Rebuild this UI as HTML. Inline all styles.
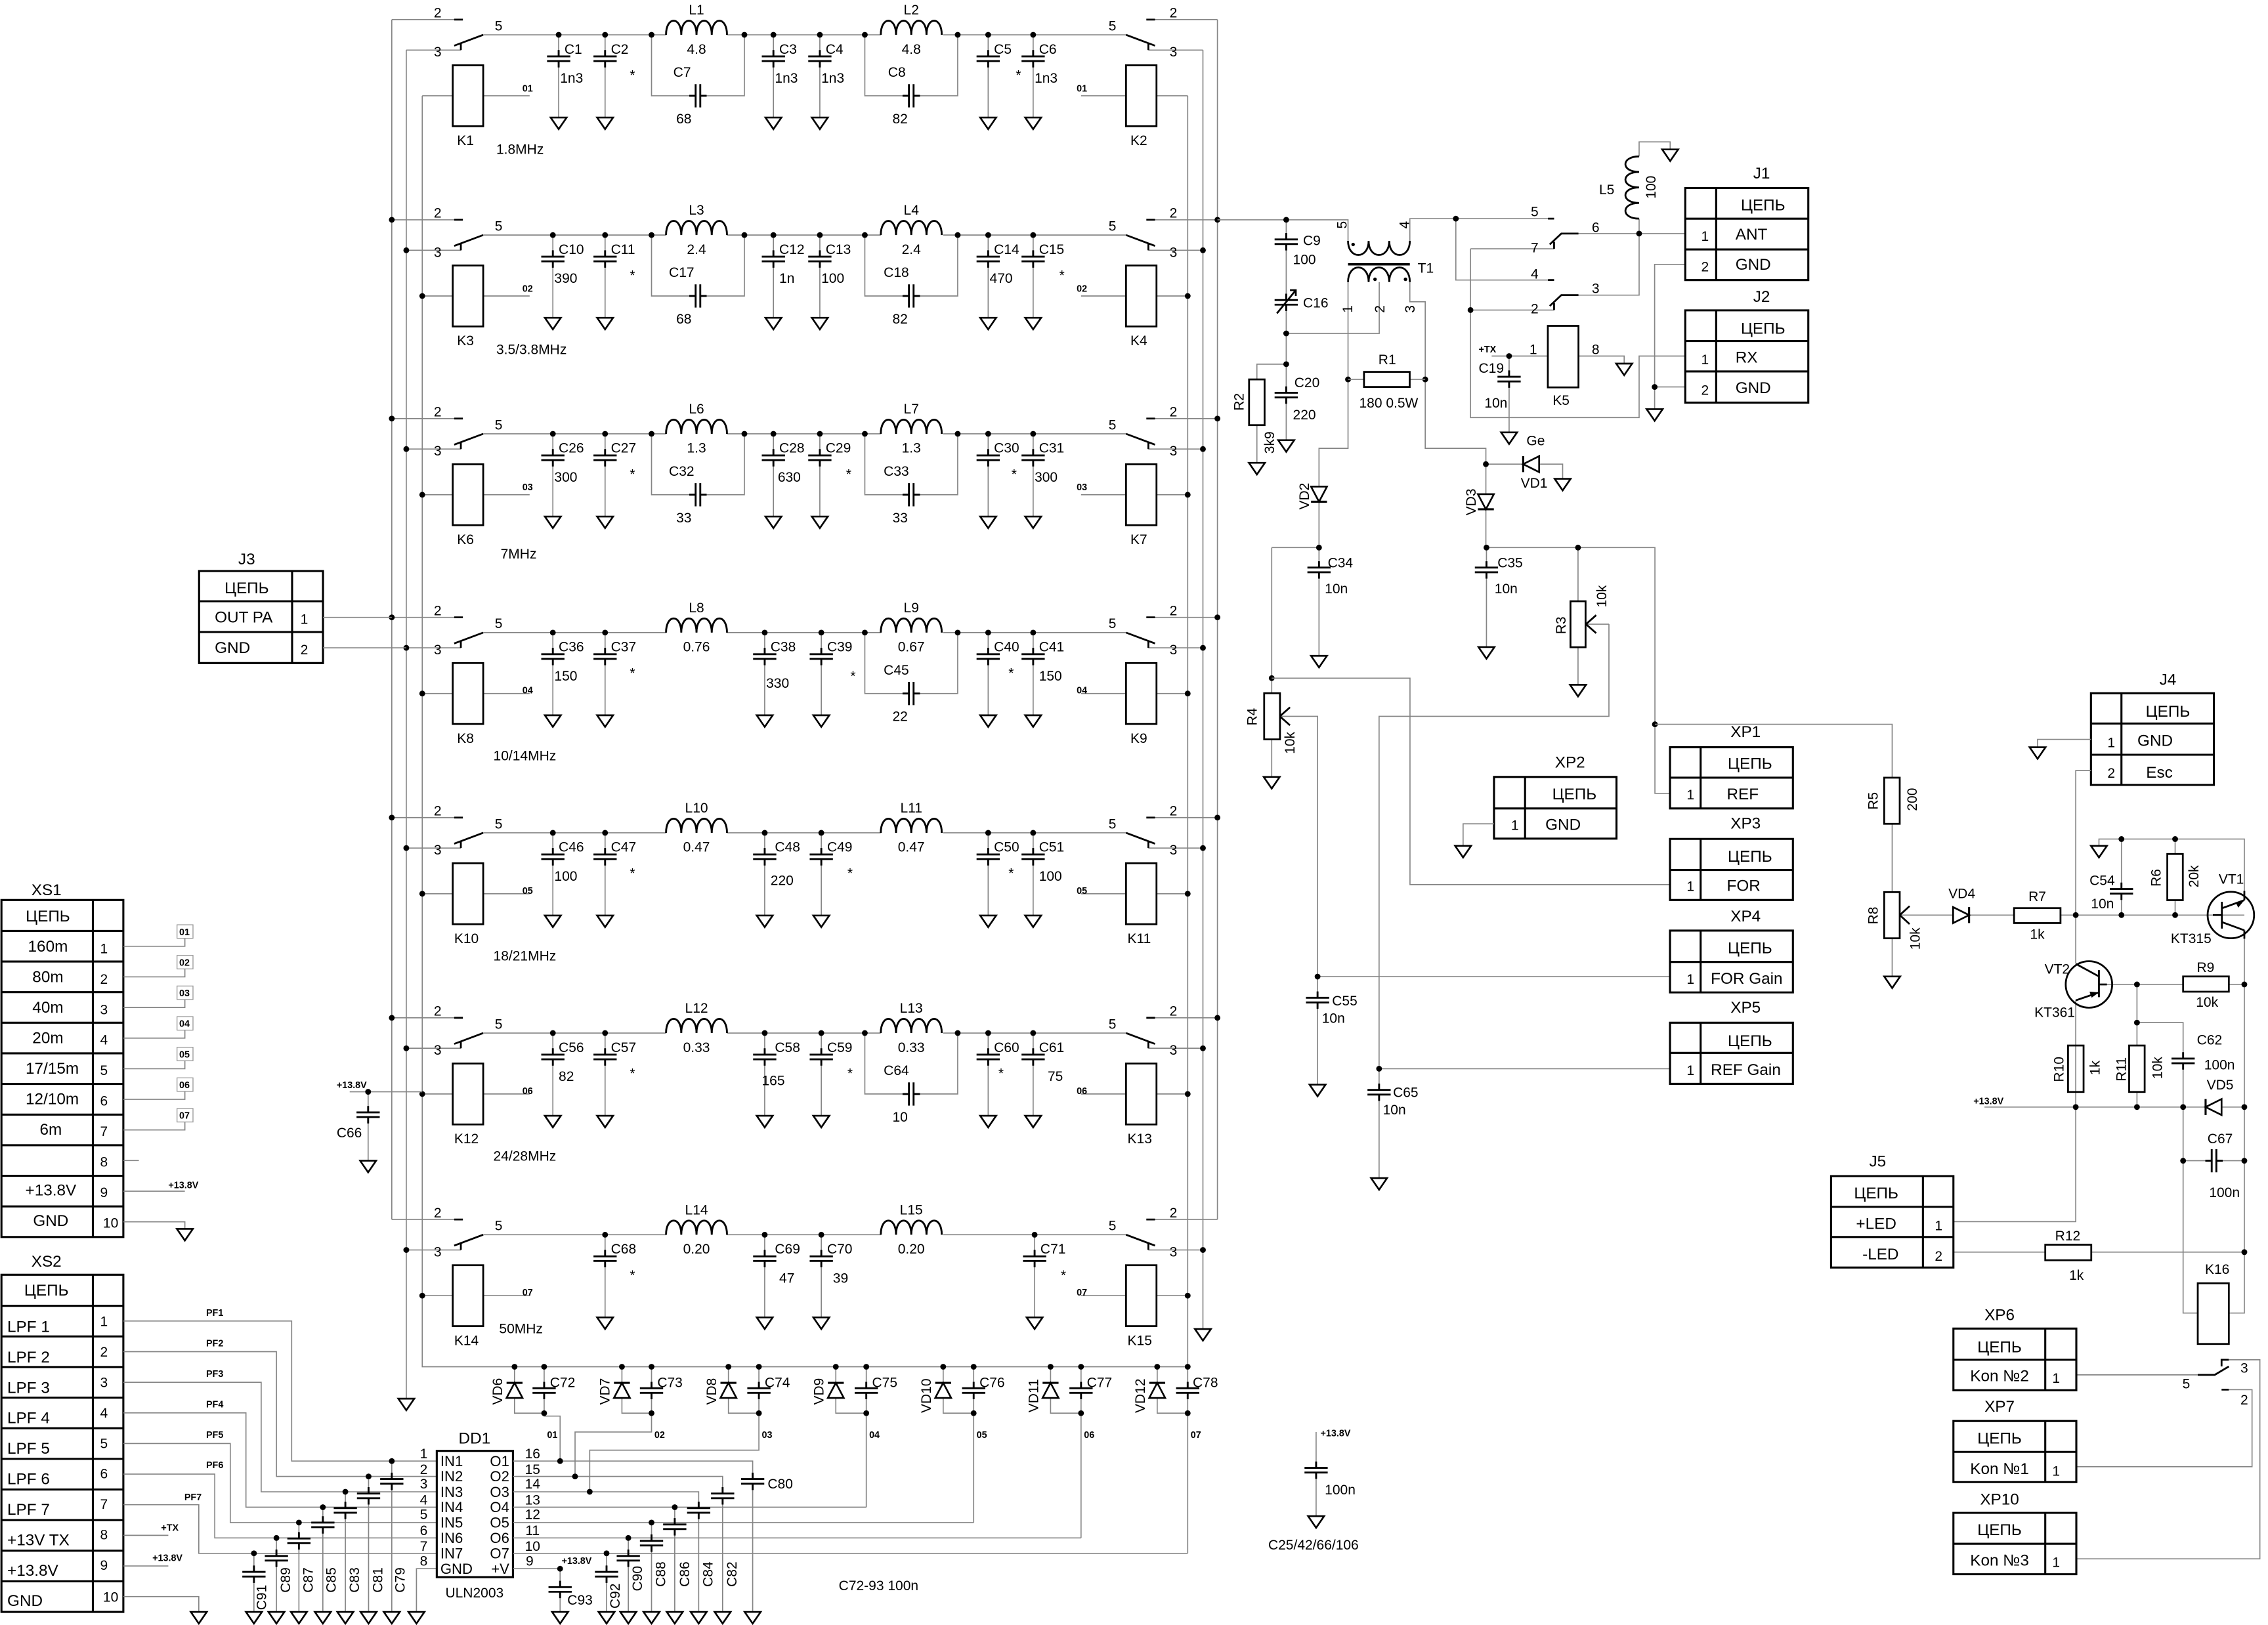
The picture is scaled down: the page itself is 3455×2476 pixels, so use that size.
<!DOCTYPE html>
<html><head><meta charset="utf-8"><style>
html,body{margin:0;padding:0;background:#fff}
svg{display:block}
.w{stroke:#858585;stroke-width:.75;fill:none}
.s{stroke:#000;stroke-width:1.25;fill:none}
.b{stroke:#000;stroke-width:1.4;fill:none}
text{font-family:"Liberation Sans",sans-serif;font-size:10px;fill:#000}
.f{font-size:9.5px}
.t{font-size:11px}
.n{font-size:6.5px;font-weight:bold}
.m{text-anchor:middle}
</style></head><body>
<svg width="3455" height="2476" viewBox="0 0 1563 1120" preserveAspectRatio="none" xmlns="http://www.w3.org/2000/svg">
<defs>
<path id="g" d="M-5.5,0 H5.5 L0,8 Z" fill="#fff" stroke="#000" stroke-width="1.2"/>
<g id="cv"><rect x="-8" y="-1.6" width="16" height="3.2" fill="#fff"/><path d="M-8,-1.6 H8 M-8,1.6 H8 M0,-6 V-1.6 M0,1.6 V6" stroke="#000" stroke-width="1.3" fill="none"/></g>
<g id="ch"><rect x="-1.6" y="-8" width="3.2" height="16" fill="#fff"/><path d="M-1.6,-8 V8 M1.6,-8 V8 M-6,0 H-1.6 M1.6,0 H6" stroke="#000" stroke-width="1.3" fill="none"/></g>
<circle id="d" r="2" fill="#000"/>
<g id="dup"><path d="M-5.5,5.2 H5.5 L0,-5.2 Z" fill="#fff" stroke="#000" stroke-width="1.2"/><path d="M-5.5,-5.2 H5.5" stroke="#000" stroke-width="1.4"/></g>
<g id="ddn"><path d="M-5.5,-5.2 H5.5 L0,5.2 Z" fill="#fff" stroke="#000" stroke-width="1.2"/><path d="M-5.5,5.2 H5.5" stroke="#000" stroke-width="1.4"/></g>
<g id="dl"><path d="M5.5,-5.5 V5.5 L-5.5,0 Z" fill="#fff" stroke="#000" stroke-width="1.2"/><path d="M-5.5,-5.5 V5.5" stroke="#000" stroke-width="1.4"/></g>
<g id="dr"><path d="M-5.5,-5.5 V5.5 L5.5,0 Z" fill="#fff" stroke="#000" stroke-width="1.2"/><path d="M5.5,-5.5 V5.5" stroke="#000" stroke-width="1.4"/></g>
<path id="ind" d="M0,0 C0,-13 10.5,-13 10.5,0 C10.5,-13 21,-13 21,0 C21,-13 31.5,-13 31.5,0 C31.5,-13 42,-13 42,0" stroke="#000" stroke-width="1.3" fill="none"/>
<g id="rowc">
<path class="w" d="M270,-10.5 H317 M280,10.5 H317.6 M291,42 H312 M333,42 H365 M745,42 H776 M797,42 H818.5 M791.4,10.5 H829 M792,-10.5 H839"/>
<path class="s" d="M313,-10.5 H319 M317.6,10.5 V6 M313,7.5 L333,0 M790,-10.5 H796 M791.4,10.5 V6 M796,7.5 L776,0"/>
<rect class="s" x="312" y="21" width="21" height="42"/>
<rect class="s" x="776" y="21" width="21" height="42"/>
<text class="f" x="299" y="-12">2</text><text class="f" x="299" y="15">3</text><text class="f" x="341" y="-3">5</text>
<text class="f" x="764" y="-3">5</text><text class="f" x="806" y="-12">2</text><text class="f" x="806" y="15">3</text>
</g>
</defs>

<!-- buses -->
<path class="w" d="M270,13.5 V840.5 M280,34.5 V964 M291,66 V942 H818.5 M839,13.5 V840.5 M829,34.5 V916 M818.5,66 V942"/>
<use href="#g" x="280" y="964"/><use href="#g" x="829" y="916"/>

<!-- ROWS -->
<g transform="translate(0,24)">
<use href="#rowc"/>
<path class="w" d="M333,0 H459 M501,0 H607 M650,0 H776 M449,0 V42 H513 V0 M596,0 V42 H660 V0 M385,0 V57 M417,0 V57 M533,0 V57 M565,0 V57 M681,0 V57 M712,0 V57"/>
<use href="#ind" x="459"/><use href="#ind" x="607"/>
<use href="#ch" x="481" y="42"/><use href="#ch" x="628" y="42"/>
<use href="#cv" x="385" y="16.5"/><use href="#cv" x="417" y="16.5"/><use href="#cv" x="533" y="16.5"/><use href="#cv" x="565" y="16.5"/><use href="#cv" x="681" y="16.5"/><use href="#cv" x="712" y="16.5"/>
<use href="#g" x="385" y="57"/><use href="#g" x="417" y="57"/><use href="#g" x="533" y="57"/><use href="#g" x="565" y="57"/><use href="#g" x="681" y="57"/><use href="#g" x="712" y="57"/>
<use href="#d" x="385"/><use href="#d" x="417"/><use href="#d" x="449"/><use href="#d" x="513"/><use href="#d" x="533"/><use href="#d" x="565"/><use href="#d" x="596"/><use href="#d" x="660"/><use href="#d" x="681"/><use href="#d" x="712"/>
<text class="f m" x="480" y="-14">L1</text><text class="f m" x="480" y="13">4.8</text><text class="f m" x="628" y="-14">L2</text><text class="f m" x="628" y="13">4.8</text>
<text class="f" x="464" y="29">C7</text><text class="f" x="466" y="61">68</text><text class="f" x="612" y="29">C8</text><text class="f" x="615" y="61">82</text>
<text class="f" x="389" y="13">C1</text><text class="f" x="386" y="33">1n3</text><text class="f" x="421" y="13">C2</text><text class="f" x="434" y="31">*</text>
<text class="f" x="537" y="13">C3</text><text class="f" x="534" y="33">1n3</text><text class="f" x="569" y="13">C4</text><text class="f" x="566" y="33">1n3</text>
<text class="f" x="685" y="13">C5</text><text class="f" x="700" y="31">*</text><text class="f" x="716" y="13">C6</text><text class="f" x="713" y="33">1n3</text>
<text class="n" x="360" y="39">01</text><text class="n" x="742" y="39">01</text>
<text class="f" x="315" y="76">K1</text><text class="f" x="342" y="82">1.8MHz</text><text class="f" x="779" y="76">K2</text>
</g>

<g transform="translate(0,162)">
<use href="#rowc"/>
<path class="w" d="M333,0 H459 M501,0 H607 M650,0 H776 M449,0 V42 H513 V0 M596,0 V42 H660 V0 M381,0 V57 M417,0 V57 M533,0 V57 M565,0 V57 M681,0 V57 M712,0 V57"/>
<use href="#ind" x="459"/><use href="#ind" x="607"/>
<use href="#ch" x="481" y="42"/><use href="#ch" x="628" y="42"/>
<use href="#cv" x="381" y="16.5"/><use href="#cv" x="417" y="16.5"/><use href="#cv" x="533" y="16.5"/><use href="#cv" x="565" y="16.5"/><use href="#cv" x="681" y="16.5"/><use href="#cv" x="712" y="16.5"/>
<use href="#g" x="381" y="57"/><use href="#g" x="417" y="57"/><use href="#g" x="533" y="57"/><use href="#g" x="565" y="57"/><use href="#g" x="681" y="57"/><use href="#g" x="712" y="57"/>
<use href="#d" x="381"/><use href="#d" x="417"/><use href="#d" x="449"/><use href="#d" x="513"/><use href="#d" x="533"/><use href="#d" x="565"/><use href="#d" x="596"/><use href="#d" x="660"/><use href="#d" x="681"/><use href="#d" x="712"/>
<text class="f m" x="480" y="-14">L3</text><text class="f m" x="480" y="13">2.4</text><text class="f m" x="628" y="-14">L4</text><text class="f m" x="628" y="13">2.4</text>
<text class="f" x="461" y="29">C17</text><text class="f" x="466" y="61">68</text><text class="f" x="609" y="29">C18</text><text class="f" x="615" y="61">82</text>
<text class="f" x="385" y="13">C10</text><text class="f" x="382" y="33">390</text><text class="f" x="421" y="13">C11</text><text class="f" x="434" y="31">*</text>
<text class="f" x="537" y="13">C12</text><text class="f" x="537" y="33">1n</text><text class="f" x="569" y="13">C13</text><text class="f" x="566" y="33">100</text>
<text class="f" x="685" y="13">C14</text><text class="f" x="682" y="33">470</text><text class="f" x="716" y="13">C15</text><text class="f" x="730" y="31">*</text>
<text class="n" x="360" y="39">02</text><text class="n" x="742" y="39">02</text>
<text class="f" x="315" y="76">K3</text><text class="f" x="342" y="82">3.5/3.8MHz</text><text class="f" x="779" y="76">K4</text>
</g>

<g transform="translate(0,299)">
<use href="#rowc"/>
<path class="w" d="M333,0 H459 M501,0 H607 M650,0 H776 M449,0 V42 H513 V0 M596,0 V42 H660 V0 M381,0 V57 M417,0 V57 M533,0 V57 M565,0 V57 M681,0 V57 M712,0 V57"/>
<use href="#ind" x="459"/><use href="#ind" x="607"/>
<use href="#ch" x="481" y="42"/><use href="#ch" x="628" y="42"/>
<use href="#cv" x="381" y="16.5"/><use href="#cv" x="417" y="16.5"/><use href="#cv" x="533" y="16.5"/><use href="#cv" x="565" y="16.5"/><use href="#cv" x="681" y="16.5"/><use href="#cv" x="712" y="16.5"/>
<use href="#g" x="381" y="57"/><use href="#g" x="417" y="57"/><use href="#g" x="533" y="57"/><use href="#g" x="565" y="57"/><use href="#g" x="681" y="57"/><use href="#g" x="712" y="57"/>
<use href="#d" x="381"/><use href="#d" x="417"/><use href="#d" x="449"/><use href="#d" x="513"/><use href="#d" x="533"/><use href="#d" x="565"/><use href="#d" x="596"/><use href="#d" x="660"/><use href="#d" x="681"/><use href="#d" x="712"/>
<text class="f m" x="480" y="-14">L6</text><text class="f m" x="480" y="13">1.3</text><text class="f m" x="628" y="-14">L7</text><text class="f m" x="628" y="13">1.3</text>
<text class="f" x="461" y="29">C32</text><text class="f" x="466" y="61">33</text><text class="f" x="609" y="29">C33</text><text class="f" x="615" y="61">33</text>
<text class="f" x="385" y="13">C26</text><text class="f" x="382" y="33">300</text><text class="f" x="421" y="13">C27</text><text class="f" x="434" y="31">*</text>
<text class="f" x="537" y="13">C28</text><text class="f" x="536" y="33">630</text><text class="f" x="569" y="13">C29</text><text class="f" x="583" y="31">*</text>
<text class="f" x="685" y="13">C30</text><text class="f" x="697" y="31">*</text><text class="f" x="716" y="13">C31</text><text class="f" x="713" y="33">300</text>
<text class="n" x="360" y="39">03</text><text class="n" x="742" y="39">03</text>
<text class="f" x="315" y="76">K6</text><text class="f" x="345" y="86">7MHz</text><text class="f" x="779" y="76">K7</text>
</g>

<g transform="translate(0,436)">
<use href="#rowc"/>
<path class="w" d="M333,0 H459 M501,0 H607 M650,0 H776 M596,0 V42 H660 V0 M381,0 V57 M417,0 V57 M527,0 V57 M566,0 V57 M681,0 V57 M712,0 V57"/>
<use href="#ind" x="459"/><use href="#ind" x="607"/>
<use href="#ch" x="628" y="42"/>
<use href="#cv" x="381" y="16.5"/><use href="#cv" x="417" y="16.5"/><use href="#cv" x="527" y="16.5"/><use href="#cv" x="566" y="16.5"/><use href="#cv" x="681" y="16.5"/><use href="#cv" x="712" y="16.5"/>
<use href="#g" x="381" y="57"/><use href="#g" x="417" y="57"/><use href="#g" x="527" y="57"/><use href="#g" x="566" y="57"/><use href="#g" x="681" y="57"/><use href="#g" x="712" y="57"/>
<use href="#d" x="381"/><use href="#d" x="417"/><use href="#d" x="527"/><use href="#d" x="566"/><use href="#d" x="596"/><use href="#d" x="660"/><use href="#d" x="681"/><use href="#d" x="712"/>
<text class="f m" x="480" y="-14">L8</text><text class="f m" x="480" y="13">0.76</text><text class="f m" x="628" y="-14">L9</text><text class="f m" x="628" y="13">0.67</text>
<text class="f" x="609" y="29">C45</text><text class="f" x="615" y="61">22</text>
<text class="f" x="385" y="13">C36</text><text class="f" x="382" y="33">150</text><text class="f" x="421" y="13">C37</text><text class="f" x="434" y="31">*</text>
<text class="f" x="531" y="13">C38</text><text class="f" x="528" y="38">330</text><text class="f" x="570" y="13">C39</text><text class="f" x="586" y="33">*</text>
<text class="f" x="685" y="13">C40</text><text class="f" x="695" y="31">*</text><text class="f" x="716" y="13">C41</text><text class="f" x="716" y="33">150</text>
<text class="n" x="360" y="42">04</text><text class="n" x="742" y="42">04</text>
<text class="f" x="315" y="76">K8</text><text class="f" x="340" y="88">10/14MHz</text><text class="f" x="779" y="76">K9</text>
</g>

<g transform="translate(0,574)">
<use href="#rowc"/>
<path class="w" d="M333,0 H459 M501,0 H607 M650,0 H776 M381,0 V57 M417,0 V57 M527,0 V57 M566,0 V57 M681,0 V57 M712,0 V57"/>
<use href="#ind" x="459"/><use href="#ind" x="607"/>
<use href="#cv" x="381" y="16.5"/><use href="#cv" x="417" y="16.5"/><use href="#cv" x="527" y="16.5"/><use href="#cv" x="566" y="16.5"/><use href="#cv" x="681" y="16.5"/><use href="#cv" x="712" y="16.5"/>
<use href="#g" x="381" y="57"/><use href="#g" x="417" y="57"/><use href="#g" x="527" y="57"/><use href="#g" x="566" y="57"/><use href="#g" x="681" y="57"/><use href="#g" x="712" y="57"/>
<use href="#d" x="381"/><use href="#d" x="417"/><use href="#d" x="527"/><use href="#d" x="566"/><use href="#d" x="681"/><use href="#d" x="712"/>
<text class="f m" x="480" y="-14">L10</text><text class="f m" x="480" y="13">0.47</text><text class="f m" x="628" y="-14">L11</text><text class="f m" x="628" y="13">0.47</text>
<text class="f" x="385" y="13">C46</text><text class="f" x="382" y="33">100</text><text class="f" x="421" y="13">C47</text><text class="f" x="434" y="31">*</text>
<text class="f" x="534" y="13">C48</text><text class="f" x="531" y="36">220</text><text class="f" x="570" y="13">C49</text><text class="f" x="584" y="31">*</text>
<text class="f" x="685" y="13">C50</text><text class="f" x="695" y="31">*</text><text class="f" x="716" y="13">C51</text><text class="f" x="716" y="33">100</text>
<text class="n" x="360" y="42">05</text><text class="n" x="742" y="42">05</text>
<text class="f" x="313" y="76">K10</text><text class="f" x="340" y="88">18/21MHz</text><text class="f" x="777" y="76">K11</text>
</g>

<g transform="translate(0,712)">
<use href="#rowc"/>
<path class="w" d="M333,0 H459 M501,0 H607 M650,0 H776 M596,0 V42 H660 V0 M381,0 V57 M417,0 V57 M527,0 V57 M566,0 V57 M681,0 V57 M712,0 V57"/>
<use href="#ind" x="459"/><use href="#ind" x="607"/>
<use href="#ch" x="628" y="42"/>
<use href="#cv" x="381" y="16.5"/><use href="#cv" x="417" y="16.5"/><use href="#cv" x="527" y="16.5"/><use href="#cv" x="566" y="16.5"/><use href="#cv" x="681" y="16.5"/><use href="#cv" x="712" y="16.5"/>
<use href="#g" x="381" y="57"/><use href="#g" x="417" y="57"/><use href="#g" x="527" y="57"/><use href="#g" x="566" y="57"/><use href="#g" x="681" y="57"/><use href="#g" x="712" y="57"/>
<use href="#d" x="381"/><use href="#d" x="417"/><use href="#d" x="527"/><use href="#d" x="566"/><use href="#d" x="596"/><use href="#d" x="660"/><use href="#d" x="681"/><use href="#d" x="712"/>
<text class="f m" x="480" y="-14">L12</text><text class="f m" x="480" y="13">0.33</text><text class="f m" x="628" y="-14">L13</text><text class="f m" x="628" y="13">0.33</text>
<text class="f" x="609" y="29">C64</text><text class="f" x="615" y="61">10</text>
<text class="f" x="385" y="13">C56</text><text class="f" x="385" y="33">82</text><text class="f" x="421" y="13">C57</text><text class="f" x="434" y="31">*</text>
<text class="f" x="534" y="13">C58</text><text class="f" x="525" y="36">165</text><text class="f" x="570" y="13">C59</text><text class="f" x="584" y="31">*</text>
<text class="f" x="685" y="13">C60</text><text class="f" x="688" y="31">*</text><text class="f" x="716" y="13">C61</text><text class="f" x="722" y="33">75</text>
<text class="n" x="360" y="42">06</text><text class="n" x="742" y="42">06</text>
<text class="f" x="313" y="76">K12</text><text class="f" x="340" y="88">24/28MHz</text><text class="f" x="777" y="76">K13</text>
</g>

<g transform="translate(0,851)">
<use href="#rowc"/>
<path class="w" d="M333,0 H459 M501,0 H607 M650,0 H776 M417,0 V57 M527,0 V57 M566,0 V57 M713,0 V57"/>
<use href="#ind" x="459"/><use href="#ind" x="607"/>
<use href="#cv" x="417" y="16.5"/><use href="#cv" x="527" y="16.5"/><use href="#cv" x="566" y="16.5"/><use href="#cv" x="713" y="16.5"/>
<use href="#g" x="417" y="57"/><use href="#g" x="527" y="57"/><use href="#g" x="566" y="57"/><use href="#g" x="713" y="57"/>
<use href="#d" x="417"/><use href="#d" x="527"/><use href="#d" x="566"/><use href="#d" x="713"/>
<text class="f m" x="480" y="-14">L14</text><text class="f m" x="480" y="13">0.20</text><text class="f m" x="628" y="-14">L15</text><text class="f m" x="628" y="13">0.20</text>
<text class="f" x="421" y="13">C68</text><text class="f" x="434" y="31">*</text>
<text class="f" x="534" y="13">C69</text><text class="f" x="537" y="33">47</text><text class="f" x="570" y="13">C70</text><text class="f" x="574" y="33">39</text>
<text class="f" x="717" y="13">C71</text><text class="f" x="731" y="31">*</text>
<text class="n" x="360" y="42">07</text><text class="n" x="742" y="42">07</text>
<text class="f" x="313" y="76">K14</text><text class="f" x="344" y="68">50MHz</text><text class="f" x="777" y="76">K15</text>
</g>

<!-- bus junction dots -->
<g>
<use href="#d" x="270" y="151.5"/><use href="#d" x="270" y="288.5"/><use href="#d" x="270" y="425.5"/><use href="#d" x="270" y="563.5"/><use href="#d" x="270" y="701.5"/>
<use href="#d" x="280" y="172.5"/><use href="#d" x="280" y="309.5"/><use href="#d" x="280" y="446.5"/><use href="#d" x="280" y="584.5"/><use href="#d" x="280" y="722.5"/><use href="#d" x="280" y="861.5"/>
<use href="#d" x="291" y="204"/><use href="#d" x="291" y="341"/><use href="#d" x="291" y="478"/><use href="#d" x="291" y="616"/><use href="#d" x="291" y="754"/><use href="#d" x="291" y="893"/>
<use href="#d" x="839" y="151.5"/><use href="#d" x="839" y="288.5"/><use href="#d" x="839" y="425.5"/><use href="#d" x="839" y="563.5"/><use href="#d" x="839" y="701.5"/>
<use href="#d" x="829" y="172.5"/><use href="#d" x="829" y="309.5"/><use href="#d" x="829" y="446.5"/><use href="#d" x="829" y="584.5"/><use href="#d" x="829" y="722.5"/><use href="#d" x="829" y="861.5"/>
<use href="#d" x="818.5" y="204"/><use href="#d" x="818.5" y="341"/><use href="#d" x="818.5" y="478"/><use href="#d" x="818.5" y="616"/><use href="#d" x="818.5" y="754"/><use href="#d" x="818.5" y="893"/>
</g>

<!-- J3 -->
<text class="t m" x="170" y="389">J3</text>
<path class="b" d="M137.2,393.6 H222.6 V457 H137.2 Z M201.3,393.6 V457 M137.2,414.4 H222.6 M137.2,435.6 H222.6"/>
<text class="t m" x="170" y="409">ЦЕПЬ</text><text class="t" x="148" y="429">OUT PA</text><text class="t" x="148" y="450">GND</text>
<text class="f" x="207" y="430">1</text><text class="f" x="207" y="451">2</text>
<path class="w" d="M222.6,425.5 H270 M222.6,446.5 H280"/>

<!-- XS1 -->
<text class="t m" x="32" y="617">XS1</text>
<path class="b" d="M1,620.3 H85 V852.6 H1 Z M64,620.3 V852.6 M1,641.6 H85 M1,662.7 H85 M1,683.8 H85 M1,704.9 H85 M1,726 H85 M1,747.1 H85 M1,768.2 H85 M1,789.3 H85 M1,810.4 H85 M1,831.5 H85"/>
<text class="t m" x="33" y="635">ЦЕПЬ</text>
<text class="t m" x="33" y="656">160m</text><text class="t m" x="33" y="677">80m</text><text class="t m" x="33" y="698">40m</text><text class="t m" x="33" y="719">20m</text><text class="t m" x="36" y="740">17/15m</text><text class="t m" x="36" y="761">12/10m</text><text class="t m" x="35" y="782">6m</text><text class="t m" x="35" y="824">+13.8V</text><text class="t m" x="35" y="845">GND</text>
<text class="f" x="69" y="657">1</text><text class="f" x="69" y="678">2</text><text class="f" x="69" y="699">3</text><text class="f" x="69" y="720">4</text><text class="f" x="69" y="741">5</text><text class="f" x="69" y="762">6</text><text class="f" x="69" y="783">7</text><text class="f" x="69" y="804">8</text><text class="f" x="69" y="825">9</text><text class="f" x="71" y="846">10</text>
<path class="w" d="M85,652.2 H127.4 V646.7 M85,673.3 H127.4 V667.8 M85,694.4 H127.4 V688.9 M85,715.5 H127.4 V710 M85,736.6 H127.4 V731.1 M85,757.7 H127.4 V752.2 M85,778.8 H127.4 V773.3 M85,799.9 H95.7 M85,821 H127.4 M85,842.1 H127.4 V847"/>
<use href="#g" x="127.4" y="847"/>
<g fill="#fff" stroke="#999" stroke-width=".6">
<rect x="122" y="637.4" width="11" height="9.3"/><rect x="122" y="658.5" width="11" height="9.3"/><rect x="122" y="679.6" width="11" height="9.3"/><rect x="122" y="700.7" width="11" height="9.3"/><rect x="122" y="721.8" width="11" height="9.3"/><rect x="122" y="742.9" width="11" height="9.3"/><rect x="122" y="764" width="11" height="9.3"/>
</g>
<text class="n" x="123.5" y="644.5">01</text><text class="n" x="123.5" y="665.6">02</text><text class="n" x="123.5" y="686.7">03</text><text class="n" x="123.5" y="707.8">04</text><text class="n" x="123.5" y="728.9">05</text><text class="n" x="123.5" y="750">06</text><text class="n" x="123.5" y="771.1">07</text>
<text class="n" x="116" y="819">+13.8V</text>

<!-- C66 -->
<text class="n" x="232" y="750">+13.8V</text>
<path class="w" d="M241,752.5 H291 M253.7,752.5 V800"/>
<use href="#d" x="253.7" y="752.5"/><use href="#cv" x="253.7" y="768.3"/><use href="#g" x="253.7" y="800"/>
<text class="f" x="232" y="784">C66</text>

<!-- XS2 -->
<text class="t m" x="32" y="873">XS2</text>
<path class="b" d="M1,878.6 H85 V1111 H1 Z M64,878.6 V1111 M1,900 H85 M1,921.1 H85 M1,942.2 H85 M1,963.3 H85 M1,984.4 H85 M1,1005.5 H85 M1,1026.6 H85 M1,1047.7 H85 M1,1068.8 H85 M1,1089.9 H85"/>
<text class="t m" x="32" y="893">ЦЕПЬ</text>
<text class="t" x="5" y="918">LPF 1</text><text class="t" x="5" y="939">LPF 2</text><text class="t" x="5" y="960">LPF 3</text><text class="t" x="5" y="981">LPF 4</text><text class="t" x="5" y="1002">LPF 5</text><text class="t" x="5" y="1023">LPF 6</text><text class="t" x="5" y="1044">LPF 7</text><text class="t" x="5" y="1065">+13V TX</text><text class="t" x="5" y="1086">+13.8V</text><text class="t" x="5" y="1107">GND</text>
<text class="f" x="69" y="914">1</text><text class="f" x="69" y="935">2</text><text class="f" x="69" y="956">3</text><text class="f" x="69" y="977">4</text><text class="f" x="69" y="998">5</text><text class="f" x="69" y="1019">6</text><text class="f" x="69" y="1040">7</text><text class="f" x="69" y="1061">8</text><text class="f" x="69" y="1082">9</text><text class="f" x="71" y="1104">10</text>
<path class="w" d="M85,910.5 H201 V1007 H301 M85,931.6 H190.5 V1017.6 H301 M85,952.7 H180 V1028.2 H301 M85,973.8 H169.5 V1038.8 H301 M85,994.9 H158.7 V1049.4 H301 M85,1016 H148 V1060 H301 M85,1037.1 H137 V1070.6 H301 M85,1058.2 H116 M85,1079.3 H116 M85,1100.4 H137 V1111"/>
<use href="#g" x="137" y="1111"/>
<text class="n m" x="148" y="907">PF1</text><text class="n m" x="148" y="928">PF2</text><text class="n m" x="148" y="949">PF3</text><text class="n m" x="148" y="970">PF4</text><text class="n m" x="148" y="991">PF5</text><text class="n m" x="148" y="1012">PF6</text><text class="n m" x="133" y="1034">PF7</text>
<text class="n" x="111" y="1055">+TX</text><text class="n" x="105" y="1076">+13.8V</text>

<!-- input caps -->
<path class="w" d="M270,1007 V1111 M254,1017.6 V1111 M238,1028.2 V1111 M222.5,1038.8 V1111 M206,1049.4 V1111 M190.5,1060 V1111 M175,1070.6 V1111 M301,1081.2 H287 V1111"/>
<use href="#d" x="270" y="1007"/><use href="#d" x="254" y="1017.6"/><use href="#d" x="238" y="1028.2"/><use href="#d" x="222.5" y="1038.8"/><use href="#d" x="206" y="1049.4"/><use href="#d" x="190.5" y="1060"/><use href="#d" x="175" y="1070.6"/>
<use href="#cv" x="270" y="1021"/><use href="#cv" x="254" y="1031"/><use href="#cv" x="238" y="1041"/><use href="#cv" x="222.5" y="1051"/><use href="#cv" x="206" y="1062"/><use href="#cv" x="190.5" y="1074"/><use href="#cv" x="175" y="1085"/>
<use href="#g" x="270" y="1111"/><use href="#g" x="254" y="1111"/><use href="#g" x="238" y="1111"/><use href="#g" x="222.5" y="1111"/><use href="#g" x="206" y="1111"/><use href="#g" x="190.5" y="1111"/><use href="#g" x="175" y="1111"/><use href="#g" x="287" y="1111"/>
<text class="f m" transform="rotate(-90 279 1089)" x="279" y="1089">C79</text>
<text class="f m" transform="rotate(-90 263.5 1089)" x="263.5" y="1089">C81</text>
<text class="f m" transform="rotate(-90 247.5 1089)" x="247.5" y="1089">C83</text>
<text class="f m" transform="rotate(-90 231.5 1089)" x="231.5" y="1089">C85</text>
<text class="f m" transform="rotate(-90 215.5 1089)" x="215.5" y="1089">C87</text>
<text class="f m" transform="rotate(-90 200 1089)" x="200" y="1089">C89</text>
<text class="f m" transform="rotate(-90 183.5 1101)" x="183.5" y="1101">C91</text>

<!-- DD1 -->
<text class="t m" x="327" y="995">DD1</text>
<rect class="b" x="301" y="1000" width="52.5" height="87"/>
<g class="f">
<text x="303.5" y="1010.5">IN1</text><text x="303.5" y="1021">IN2</text><text x="303.5" y="1031.7">IN3</text><text x="303.5" y="1042.3">IN4</text><text x="303.5" y="1052.9">IN5</text><text x="303.5" y="1063.5">IN6</text><text x="303.5" y="1074">IN7</text><text x="303.5" y="1084.7">GND</text>
<text x="351" y="1010.5" text-anchor="end">O1</text><text x="351" y="1021" text-anchor="end">O2</text><text x="351" y="1031.7" text-anchor="end">O3</text><text x="351" y="1042.3" text-anchor="end">O4</text><text x="351" y="1052.9" text-anchor="end">O5</text><text x="351" y="1063.5" text-anchor="end">O6</text><text x="351" y="1074" text-anchor="end">O7</text><text x="351" y="1084.7" text-anchor="end">+V</text>
<text class="f m" x="292" y="1005">1</text><text class="f m" x="292" y="1016">2</text><text class="f m" x="292" y="1026">3</text><text class="f m" x="292" y="1037">4</text><text class="f m" x="292" y="1047">5</text><text class="f m" x="292" y="1058">6</text><text class="f m" x="292" y="1069">7</text><text class="f m" x="292" y="1079">8</text>
<text class="f m" x="367" y="1005">16</text><text class="f m" x="367" y="1016">15</text><text class="f m" x="367" y="1026">14</text><text class="f m" x="367" y="1037">13</text><text class="f m" x="367" y="1047">12</text><text class="f m" x="367" y="1058">11</text><text class="f m" x="367" y="1069">10</text><text class="f m" x="365" y="1079">9</text>
</g>
<text class="f m" x="327" y="1101">ULN2003</text>
<path class="w" d="M353.5,1007 H518.7 V1111 M353.5,1017.6 H498 V1111 M353.5,1028.2 H481.5 V1111 M353.5,1038.8 H597 M353.5,1049.4 H671 M353.5,1060 H745 M353.5,1070.6 H818.5 M465,1038.8 V1111 M449,1049.4 V1111 M433,1060 V1111 M418,1070.6 V1111 M353.5,1081.2 H386 V1111"/>
<use href="#d" x="465" y="1038.8"/><use href="#d" x="449" y="1049.4"/><use href="#d" x="433" y="1060"/><use href="#d" x="418" y="1070.6"/><use href="#d" x="386" y="1081.2"/>
<use href="#cv" x="518.7" y="1021"/><use href="#cv" x="498" y="1031"/><use href="#cv" x="481.5" y="1041"/><use href="#cv" x="465" y="1052.3"/><use href="#cv" x="449" y="1063.6"/><use href="#cv" x="433" y="1074"/><use href="#cv" x="418" y="1085"/><use href="#cv" x="386" y="1095.5"/>
<use href="#g" x="518.7" y="1111"/><use href="#g" x="498" y="1111"/><use href="#g" x="481.5" y="1111"/><use href="#g" x="465" y="1111"/><use href="#g" x="449" y="1111"/><use href="#g" x="433" y="1111"/><use href="#g" x="418" y="1111"/><use href="#g" x="386" y="1111"/>
<text class="f" x="529" y="1026">C80</text>
<text class="n" x="387" y="1078">+13.8V</text>
<text class="f" x="391" y="1106">C93</text>
<text class="f m" transform="rotate(-90 507.5 1085)" x="507.5" y="1085">C82</text>
<text class="f m" transform="rotate(-90 491 1085)" x="491" y="1085">C84</text>
<text class="f m" transform="rotate(-90 475 1085)" x="475" y="1085">C86</text>
<text class="f m" transform="rotate(-90 458.5 1085)" x="458.5" y="1085">C88</text>
<text class="f m" transform="rotate(-90 442.5 1088)" x="442.5" y="1088">C90</text>
<text class="f m" transform="rotate(-90 427 1100)" x="427" y="1100">C92</text>
<text class="f" x="578" y="1096">C72-93 100n</text>

<!-- diode strip -->
<path class="w" d="M354.6,942 V974 H375 M428.6,942 V974 H449 M502,942 V974 H523 M576,942 V974 H597 M650,942 V974 H671 M724,942 V974 H745 M797.5,942 V974 H818.5 M375,942 V974 M449,942 V974 M523,942 V974 M597,942 V974 M671,942 V974 M745,942 V974 M818.5,942 V1070.6
M375,974 V976 H386 V1007 M449,974 V987 H396.3 V1017.6 M523,974 V999.5 H406.4 V1028.2 M597,974 V1038.8 M671,974 V1049.4 M745,974 V1060"/>
<use href="#d" x="386" y="1007"/><use href="#d" x="396.3" y="1017.6"/><use href="#d" x="406.4" y="1028.2"/>
<g>
<use href="#dup" x="354.6" y="958.3"/><use href="#dup" x="428.6" y="958.3"/><use href="#dup" x="502" y="958.3"/><use href="#dup" x="576" y="958.3"/><use href="#dup" x="650" y="958.3"/><use href="#dup" x="724" y="958.3"/><use href="#dup" x="797.5" y="958.3"/>
<use href="#cv" x="375" y="958.4"/><use href="#cv" x="449" y="958.4"/><use href="#cv" x="523" y="958.4"/><use href="#cv" x="597" y="958.4"/><use href="#cv" x="671" y="958.4"/><use href="#cv" x="745" y="958.4"/><use href="#cv" x="818.5" y="958.4"/>
<use href="#d" x="354.6" y="942"/><use href="#d" x="428.6" y="942"/><use href="#d" x="502" y="942"/><use href="#d" x="576" y="942"/><use href="#d" x="650" y="942"/><use href="#d" x="724" y="942"/><use href="#d" x="797.5" y="942"/>
<use href="#d" x="375" y="942"/><use href="#d" x="449" y="942"/><use href="#d" x="523" y="942"/><use href="#d" x="597" y="942"/><use href="#d" x="671" y="942"/><use href="#d" x="745" y="942"/><use href="#d" x="818.5" y="942"/>
<use href="#d" x="375" y="974"/><use href="#d" x="449" y="974"/><use href="#d" x="523" y="974"/><use href="#d" x="597" y="974"/><use href="#d" x="671" y="974"/><use href="#d" x="745" y="974"/><use href="#d" x="818.5" y="974"/>
</g>
<text class="f" x="379" y="956">C72</text><text class="f" x="453" y="956">C73</text><text class="f" x="527" y="956">C74</text><text class="f" x="601" y="956">C75</text><text class="f" x="675" y="956">C76</text><text class="f" x="749" y="956">C77</text><text class="f" x="822" y="956">C78</text>
<text class="f m" transform="rotate(-90 346 959)" x="346" y="959">VD6</text>
<text class="f m" transform="rotate(-90 420 959)" x="420" y="959">VD7</text>
<text class="f m" transform="rotate(-90 493.5 959)" x="493.5" y="959">VD8</text>
<text class="f m" transform="rotate(-90 567.5 959)" x="567.5" y="959">VD9</text>
<text class="f m" transform="rotate(-90 641.5 962)" x="641.5" y="962">VD10</text>
<text class="f m" transform="rotate(-90 715.5 962)" x="715.5" y="962">VD11</text>
<text class="f m" transform="rotate(-90 789 962)" x="789" y="962">VD12</text>
<text class="n" x="377" y="991">01</text><text class="n" x="451" y="991">02</text><text class="n" x="525" y="991">03</text><text class="n" x="599" y="991">04</text><text class="n" x="673" y="991">05</text><text class="n" x="747" y="991">06</text><text class="n" x="820.5" y="991">07</text>

<!-- C25 -->
<text class="n" x="910" y="990">+13.8V</text>
<path class="w" d="M907,987 V1045"/>
<use href="#cv" x="907" y="1013.3"/><use href="#g" x="907" y="1045"/>
<text class="f" x="913" y="1030">100n</text>
<text class="f" x="874" y="1068">C25/42/66/106</text>

<!-- output / T1 area -->
<path class="w" d="M839,151.5 H929 V166 M971.6,166 V150.7 H1071 M886.4,151.5 V229.8 M886.4,229.8 H950.5 V194.4 M886.4,229.8 V303.4 M886.4,251 H866.2 V261.5 M866.2,293 V319
M929,194.4 V309 H909 V377.4 M876.4,377.4 H909 M909,377.4 V452 M876.4,377.4 V477.8 M876.4,509.6 V535.5
M971.6,194.4 V208 H982.2 V309 H1024 V377.4 M1024,319.9 H1049.4 M1061,319.9 H1076.9 V330 M1024.4,377.4 V446 M1024.4,377.4 H1140.5 V546.8 H1150.9 M1087.5,377.4 V414.4 M1087.5,446.1 V472
M1003.3,150.7 V193 H1071 M1087.8,161 H1161.4 M1129.6,150.7 V203.4 H1087.8 M1013.4,171.5 H1071 M1013.4,171.5 V287.8 H1129.6 V245.4 H1161.4 M1013.4,213.7 H1071
M1161.4,182.2 H1140.3 V282 M1140.3,266.7 H1161.4
M1129.6,107.8 V97.8 H1151 V103 M1040,245.4 H1066.7 M1028,245.4 H1040 M1040,245.4 V298 M1087.8,245.4 H1119.3 V250.6"/>
<use href="#d" x="886.4" y="151.5"/><use href="#d" x="1003.3" y="150.7"/><use href="#d" x="886.4" y="229.8"/><use href="#d" x="886.4" y="251"/><use href="#d" x="929" y="261.5"/><use href="#d" x="982.2" y="261.5"/>
<use href="#d" x="1024" y="319.9"/><use href="#d" x="909" y="377.4"/><use href="#d" x="1024.4" y="377.4"/><use href="#d" x="1087.5" y="377.4"/><use href="#d" x="876.4" y="467.4"/><use href="#d" x="1140.5" y="499.2"/>
<use href="#d" x="1129.6" y="161"/><use href="#d" x="1013.4" y="213.7"/><use href="#d" x="1140.3" y="266.7"/><use href="#d" x="1040" y="245.4"/>
<!-- T1 -->
<path class="s" d="M929,166 C929,179 943.2,179 943.2,166 C943.2,179 957.4,179 957.4,166 C957.4,179 971.6,179 971.6,166 M929,194.4 C929,181 943.2,181 943.2,194.4 C943.2,181 957.4,181 957.4,194.4 C957.4,181 971.6,181 971.6,194.4"/>
<path d="M929,182.2 H971.6" stroke="#000" stroke-width="1.6"/>
<circle cx="932.5" cy="168.5" r="1.2" fill="#000"/><circle cx="947.6" cy="192.5" r="1.2" fill="#000"/><circle cx="968.6" cy="192.5" r="1.2" fill="#000"/>
<text class="f" x="977" y="188">T1</text>
<text class="f m" transform="rotate(-90 928 155)" x="928" y="155">5</text>
<text class="f m" transform="rotate(-90 971 155)" x="971" y="155">4</text>
<text class="f m" transform="rotate(-90 932 213)" x="932" y="213">1</text>
<text class="f m" transform="rotate(-90 954 213)" x="954" y="213">2</text>
<text class="f m" transform="rotate(-90 975 213)" x="975" y="213">3</text>
<!-- C9, C16, C20, R2 -->
<use href="#cv" x="886.4" y="166.6"/><text class="f" x="898" y="169">C9</text><text class="f" x="891" y="182">100</text>
<use href="#cv" x="886.4" y="208.4"/><path class="s" d="M880,216 L893,200 M889,200 H893 V204"/><text class="f" x="898" y="212">C16</text>
<use href="#cv" x="886.4" y="272.3"/><use href="#g" x="886.4" y="303.4"/><text class="f" x="892" y="267">C20</text><text class="f" x="891" y="289">220</text>
<rect class="s" x="860.8" y="261.5" width="10.7" height="31.5" fill="#fff"/><use href="#g" x="866.2" y="319"/>
<text class="f m" transform="rotate(-90 857 277)" x="857" y="277">R2</text>
<text class="f m" transform="rotate(-90 878 305)" x="878" y="305">3k9</text>
<!-- R1 -->
<path class="w" d="M929,261.5 H940 M971.5,261.5 H982.2"/>
<rect class="s" x="940" y="256.3" width="31.5" height="10.4" fill="#fff"/>
<text class="f m" x="956" y="251">R1</text><text class="f m" x="957" y="281">180 0.5W</text>
<!-- diodes -->
<use href="#ddn" x="909" y="340.6"/><use href="#ddn" x="1024" y="345.8"/><use href="#dl" x="1055.2" y="319.9"/>
<use href="#g" x="1076.9" y="330"/>
<text class="f m" transform="rotate(-90 902 342)" x="902" y="342">VD2</text>
<text class="f m" transform="rotate(-90 1017 346)" x="1017" y="346">VD3</text>
<text class="f" x="1048" y="336">VD1</text><text class="f" x="1052" y="307">Ge</text>
<!-- relay K5 -->
<path class="s" d="M1066.8,150.7 H1071 M1066.8,193 H1071 M1071,171.5 V166.7 M1068,168.5 L1076,161 H1087.8 M1071,213.7 V208.9 M1068,210.9 L1076,203.4 H1087.8"/>
<text class="f" x="1055" y="149">5</text><text class="f" x="1055" y="174">7</text><text class="f" x="1055" y="192">4</text><text class="f" x="1055" y="216">2</text><text class="f" x="1097" y="160">6</text><text class="f" x="1097" y="202">3</text>
<rect class="s" x="1066.7" y="224.6" width="21.1" height="42.4"/>
<text class="f" x="1054" y="244">1</text><text class="f" x="1097" y="244">8</text><text class="f" x="1070" y="279">K5</text>
<use href="#g" x="1119.3" y="250.6"/>
<text class="n" x="1019" y="243">+TX</text>
<use href="#cv" x="1040" y="261.3"/><use href="#g" x="1040" y="298"/>
<text class="f" x="1019" y="257">C19</text><text class="f" x="1023" y="281">10n</text>
<use href="#g" x="1140.3" y="282"/>
<!-- L5 -->
<path class="s" d="M1129.6,107.8 C1117,107.8 1117,118.5 1129.6,118.5 C1117,118.5 1117,129.2 1129.6,129.2 C1117,129.2 1117,139.9 1129.6,139.9 C1117,139.9 1117,150.7 1129.6,150.7"/>
<use href="#g" x="1151" y="103"/>
<text class="f" x="1102" y="134">L5</text>
<text class="f m" transform="rotate(-90 1141 129)" x="1141" y="129">100</text>
<!-- J1 J2 -->
<text class="t m" x="1214" y="123">J1</text>
<path class="b" d="M1161.4,129.6 H1246.2 V193 H1161.4 Z M1182.7,129.6 V193 M1161.4,150.7 H1246.2 M1161.4,171.9 H1246.2"/>
<text class="t m" x="1215" y="145">ЦЕПЬ</text><text class="t" x="1196" y="165">ANT</text><text class="t" x="1196" y="186">GND</text>
<text class="f" x="1175" y="166" text-anchor="middle">1</text><text class="f" x="1175" y="187" text-anchor="middle">2</text>
<text class="t m" x="1214" y="208">J2</text>
<path class="b" d="M1161.4,213.9 H1246.2 V277.5 H1161.4 Z M1182.7,213.9 V277.5 M1161.4,235 H1246.2 M1161.4,256 H1246.2"/>
<text class="t m" x="1215" y="230">ЦЕПЬ</text><text class="t" x="1196" y="250">RX</text><text class="t" x="1196" y="271">GND</text>
<text class="f" x="1175" y="251" text-anchor="middle">1</text><text class="f" x="1175" y="272" text-anchor="middle">2</text>

<!-- C34 C35 R3 R4 C55 C65 -->
<use href="#cv" x="909" y="392.8"/><use href="#g" x="909" y="452"/>
<text class="f" x="915" y="391">C34</text><text class="f" x="913" y="409">10n</text>
<use href="#cv" x="1024.4" y="392.8"/><use href="#g" x="1024.4" y="446"/>
<text class="f" x="1032" y="391">C35</text><text class="f" x="1030" y="409">10n</text>
<rect class="s" x="1082.3" y="414.4" width="10.4" height="31.7" fill="#fff"/><use href="#g" x="1087.5" y="472"/>
<path class="w" d="M1108.8,430.2 H1093 M1108.8,430.2 V493.7 H950.4 V751"/>
<path class="s" d="M1093,430.2 L1100,424 M1093,430.2 L1100,436.4"/>
<text class="f m" transform="rotate(-90 1079 431)" x="1079" y="431">R3</text>
<text class="f m" transform="rotate(-90 1107 411)" x="1107" y="411">10k</text>
<rect class="s" x="871.2" y="477.8" width="10.9" height="31.8" fill="#fff"/><use href="#g" x="876.4" y="535.5"/>
<path class="w" d="M882,493.7 H908 V687 M876.4,467.4 H971.7 V609.7 H1150.9 M908,673.1 H1150.9 M950.4,736.6 H1150.9 M908,691 V747.6 M950.4,754.5 V812"/>
<path class="s" d="M882,493.7 L889,487.5 M882,493.7 L889,499.9"/>
<use href="#d" x="908" y="673.1"/><use href="#d" x="950.4" y="736.6"/>
<use href="#cv" x="908" y="689.3"/><use href="#g" x="908" y="747.6"/>
<use href="#cv" x="950.4" y="752.8"/><use href="#g" x="950.4" y="812"/>
<text class="f" x="918" y="693">C55</text><text class="f" x="911" y="705">10n</text>
<text class="f" x="960" y="756">C65</text><text class="f" x="953" y="768">10n</text>
<text class="f m" transform="rotate(-90 866 494)" x="866" y="494">R4</text>
<text class="f m" transform="rotate(-90 892 512)" x="892" y="512">10k</text>

<!-- XP2 -->
<text class="t m" x="1082" y="529">XP2</text>
<path class="b" d="M1029.6,535.5 H1114 V578 H1029.6 Z M1051,535.5 V578 M1029.6,557.2 H1114"/>
<text class="t m" x="1085" y="551">ЦЕПЬ</text><text class="t" x="1065" y="572">GND</text><text class="f m" x="1044" y="572">1</text>
<path class="w" d="M1029.6,567.8 H1008.3 V583"/><use href="#g" x="1008.3" y="583"/>
<!-- XP1,3,4,5 -->
<g>
<text class="t m" x="1203" y="508">XP1</text>
<path class="b" d="M1150.9,515 H1235.6 V557.2 H1150.9 Z M1172,515 V557.2 M1150.9,536 H1235.6"/>
<text class="t m" x="1206" y="530">ЦЕПЬ</text><text class="t" x="1190" y="551">REF</text><text class="f m" x="1165" y="551">1</text>
<text class="t m" x="1203" y="571">XP3</text>
<path class="b" d="M1150.9,578.2 H1235.6 V620.3 H1150.9 Z M1172,578.2 V620.3 M1150.9,599.6 H1235.6"/>
<text class="t m" x="1206" y="594">ЦЕПЬ</text><text class="t" x="1190" y="614">FOR</text><text class="f m" x="1165" y="614">1</text>
<text class="t m" x="1203" y="635">XP4</text>
<path class="b" d="M1150.9,641.4 H1235.6 V684 H1150.9 Z M1172,641.4 V684 M1150.9,663 H1235.6"/>
<text class="t m" x="1206" y="657">ЦЕПЬ</text><text class="t" x="1179" y="678">FOR Gain</text><text class="f m" x="1165" y="678">1</text>
<text class="t m" x="1203" y="698">XP5</text>
<path class="b" d="M1150.9,704.9 H1235.6 V747 H1150.9 Z M1172,704.9 V747 M1150.9,725.7 H1235.6"/>
<text class="t m" x="1206" y="721">ЦЕПЬ</text><text class="t" x="1179" y="741">REF Gain</text><text class="f m" x="1165" y="741">1</text>
</g>

<!-- R5 R8 VD4 R7 -->
<path class="w" d="M1140.5,499.2 H1304 V536 M1304,567.8 V614.9 M1304,646.7 V673 M1309.2,630.7 H1346 M1357,630.7 H1388 M1420,630.7 H1546.7"/>
<rect class="s" x="1298.5" y="536" width="10.7" height="31.8" fill="#fff"/>
<rect class="s" x="1298.5" y="614.9" width="10.7" height="31.8" fill="#fff"/>
<path class="s" d="M1309.2,630.7 L1316,624.5 M1309.2,630.7 L1316,636.9"/>
<use href="#g" x="1304" y="673"/>
<text class="f m" transform="rotate(-90 1294 552)" x="1294" y="552">R5</text>
<text class="f m" transform="rotate(-90 1321 551)" x="1321" y="551">200</text>
<text class="f m" transform="rotate(-90 1294 631)" x="1294" y="631">R8</text>
<text class="f m" transform="rotate(-90 1323 647)" x="1323" y="647">10k</text>
<use href="#dr" x="1351.5" y="630.7"/><text class="f m" x="1352" y="619">VD4</text>
<rect class="s" x="1388" y="625.9" width="32" height="10.3" fill="#fff"/>
<text class="f m" x="1404" y="621">R7</text><text class="f m" x="1404" y="647">1k</text>

<!-- J4 -->
<text class="t m" x="1494" y="472">J4</text>
<path class="b" d="M1441,477.8 H1525.7 V541 H1441 Z M1462,477.8 V541 M1441,498.7 H1525.7 M1441,520.2 H1525.7"/>
<text class="t m" x="1494" y="494">ЦЕПЬ</text><text class="t" x="1473" y="514">GND</text><text class="t" x="1479" y="536">Esc</text>
<text class="f m" x="1455" y="515">1</text><text class="f m" x="1455" y="536">2</text>
<path class="w" d="M1441,509.6 H1404.2 V515 M1441,531.1 H1430.5 V664 M1430.5,689.5 V842 H1346.2 M1446.5,583 V578.3 H1546.7 V614 M1462,578.3 V630.7 M1499,578.3 V588.6 M1499,620.4 V630.7 M1546.7,647 V905 H1536 M1446.5,678.5 H1504.5 M1536,678.5 H1546.7 M1472.7,678.5 V720.6 M1472.7,752.6 V763 M1472.7,704.8 H1504.5 V905 H1514.6 M1367.6,763 H1520 M1531,763 H1546.7 M1504.5,800 H1524 M1528,800 H1546.7 M1346.2,863 H1409.5 M1441.2,863 H1546.7"/>
<use href="#g" x="1404.2" y="515"/><use href="#g" x="1446.5" y="583"/>
<use href="#d" x="1462" y="578.3"/><use href="#d" x="1499" y="578.3"/>
<use href="#d" x="1430.5" y="630.7"/><use href="#d" x="1462" y="630.7"/><use href="#d" x="1499" y="630.7"/>
<use href="#cv" x="1462" y="614.3"/>
<rect class="s" x="1493.6" y="588.6" width="10.7" height="31.8" fill="#fff"/>
<text class="f" x="1440" y="610">C54</text><text class="f" x="1441" y="626">10n</text>
<text class="f m" transform="rotate(-90 1489 605)" x="1489" y="605">R6</text>
<text class="f m" transform="rotate(-90 1515 604)" x="1515" y="604">20k</text>
<!-- VT1 -->
<circle class="s" cx="1537.4" cy="630.7" r="16"/>
<path class="s" d="M1531.2,621.5 V640 M1525,630.7 H1531.2 M1531.2,626 L1546.7,620.4 M1531.2,635.5 L1546.7,641.2 M1546.7,641.2 V647 M1546.7,620.4 V614"/>
<path d="M1541,622.5 L1546.7,620.4 L1542.5,625.6 Z" fill="#000"/>
<text class="f" x="1529" y="609">VT1</text><text class="f" x="1496" y="650">KT315</text>
<!-- VT2 -->
<circle class="s" cx="1439.6" cy="678.5" r="16"/>
<path class="s" d="M1446.5,668.6 V687.3 M1446.5,678.5 H1452 M1446.5,673 L1430.5,664.3 M1446.5,684 L1430.5,689.5"/>
<path d="M1446.5,684 L1440,683.5 L1441.5,687.6 Z" fill="#000"/>
<text class="f" x="1409" y="671">VT2</text><text class="f" x="1402" y="701">KT361</text>
<use href="#d" x="1472.7" y="678.5"/><use href="#d" x="1546.7" y="678.5"/><use href="#d" x="1472.7" y="704.8"/>
<rect class="s" x="1504.5" y="673" width="31.5" height="10.5" fill="#fff"/>
<text class="f m" x="1520" y="670">R9</text><text class="f m" x="1521" y="694">10k</text>
<rect class="s" x="1425.2" y="720.6" width="10.7" height="32" fill="#fff"/>
<rect class="s" x="1467.3" y="720.6" width="10.7" height="32" fill="#fff"/>
<text class="f m" transform="rotate(-90 1422 737)" x="1422" y="737">R10</text>
<text class="f m" transform="rotate(-90 1447 736)" x="1447" y="736">1k</text>
<text class="f m" transform="rotate(-90 1465 737)" x="1465" y="737">R11</text>
<text class="f m" transform="rotate(-90 1490 736)" x="1490" y="736">10k</text>
<use href="#cv" x="1504.5" y="731.2"/>
<text class="f" x="1514" y="720">C62</text><text class="f" x="1519" y="737">100n</text>
<text class="n" x="1360" y="761">+13.8V</text>
<use href="#d" x="1430.5" y="763"/><use href="#d" x="1472.7" y="763"/><use href="#d" x="1504.5" y="763"/><use href="#d" x="1546.7" y="763"/>
<use href="#dl" x="1525.5" y="763"/><text class="f m" x="1530" y="751">VD5</text>
<use href="#ch" x="1525.8" y="800"/><use href="#d" x="1504.5" y="800"/><use href="#d" x="1546.7" y="800"/>
<text class="f m" x="1530" y="788">C67</text><text class="f m" x="1533" y="825">100n</text>
<!-- J5 -->
<text class="t m" x="1294" y="804">J5</text>
<path class="b" d="M1261.9,810.6 H1346.2 V873.6 H1261.9 Z M1325.2,810.6 V873.6 M1261.9,831.8 H1346.2 M1261.9,852.6 H1346.2"/>
<text class="t m" x="1293" y="826">ЦЕПЬ</text><text class="t m" x="1293" y="847">+LED</text><text class="t m" x="1296" y="868">-LED</text>
<text class="f m" x="1336" y="848">1</text><text class="f m" x="1336" y="869">2</text>
<rect class="s" x="1409.5" y="857.9" width="31.7" height="10.7" fill="#fff"/>
<text class="f m" x="1425" y="855">R12</text><text class="f m" x="1431" y="882">1k</text>
<use href="#d" x="1546.7" y="863"/>
<!-- K16 -->
<rect class="s" x="1514.6" y="884.5" width="21.4" height="41.8"/>
<text class="f m" x="1528" y="878">K16</text>
<path class="s" d="M1514.6,947.6 H1526.3 L1536,941.8 M1531,941.8 V937.2 H1536 M1531,957.8 H1536"/>
<path class="w" d="M1536,937.2 H1557.4 V1074.4 H1430.9 M1536,957.8 H1552 V1010.9 H1430.9 M1430.9,947.6 H1514.6"/>
<text class="f" x="1544" y="946">3</text><text class="f" x="1504" y="957">5</text><text class="f" x="1544" y="968">2</text>
<!-- XP6,7,10 -->
<text class="t m" x="1378" y="910">XP6</text>
<path class="b" d="M1346.2,915.7 H1430.9 V958.2 H1346.2 Z M1409.5,915.7 V958.2 M1346.2,937.2 H1430.9"/>
<text class="t m" x="1378" y="932">ЦЕПЬ</text><text class="t m" x="1378" y="952">Kon №2</text><text class="f m" x="1417" y="953">1</text>
<text class="t m" x="1378" y="973">XP7</text>
<path class="b" d="M1346.2,979.4 H1430.9 V1021.5 H1346.2 Z M1409.5,979.4 V1021.5 M1346.2,1000.7 H1430.9"/>
<text class="t m" x="1378" y="995">ЦЕПЬ</text><text class="t m" x="1378" y="1016">Kon №1</text><text class="f m" x="1417" y="1017">1</text>
<text class="t m" x="1378" y="1037">XP10</text>
<path class="b" d="M1346.2,1042.7 H1430.9 V1085 H1346.2 Z M1409.5,1042.7 V1085 M1346.2,1064 H1430.9"/>
<text class="t m" x="1378" y="1058">ЦЕПЬ</text><text class="t m" x="1378" y="1079">Kon №3</text><text class="f m" x="1417" y="1080">1</text>
</svg>
</body></html>
